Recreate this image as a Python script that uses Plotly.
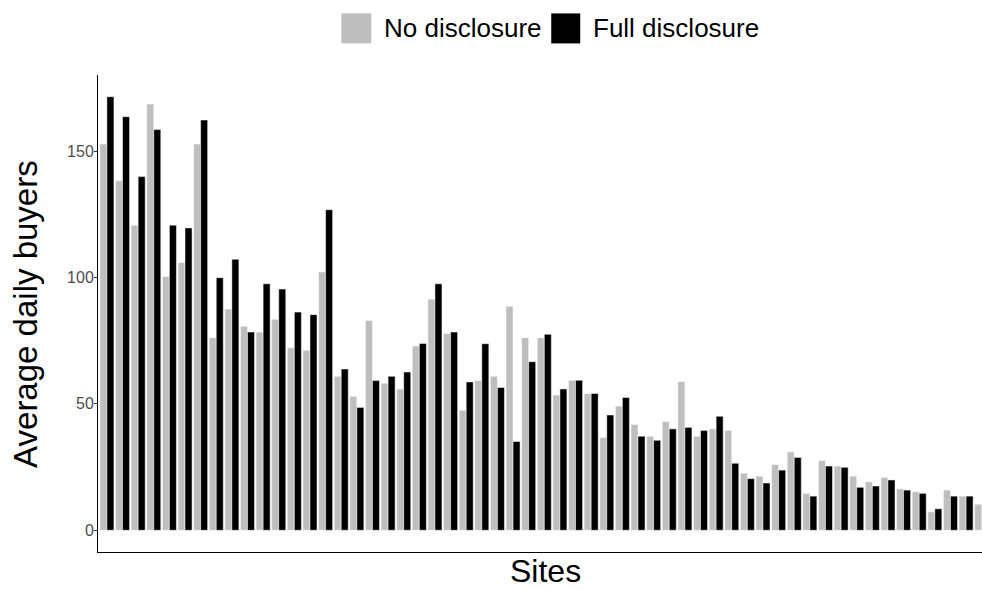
import plotly.graph_objects as go

sites = list(range(1, 58))
no_disclosure = [152.8, 138.3, 120.7, 168.6, 100.4, 105.9, 152.8, 76.2, 87.5, 80.7,
                 78.4, 83.5, 72.2, 71.2, 102.2, 60.9, 53.0, 83.0, 58.2, 55.9,
                 72.9, 91.4, 77.8, 47.5, 59.2, 60.9, 88.6, 76.2, 76.2, 53.5,
                 59.3, 54.1, 36.7, 49.1, 41.8, 37.2, 43.0, 58.8, 37.2, 40.1,
                 39.5, 22.6, 21.4, 26.0, 31.0, 14.6, 27.6, 25.4, 21.4, 19.2,
                 20.9, 16.4, 15.2, 7.3, 15.9, 13.5, 10.3]
full_disclosure = [171.5, 163.6, 139.9, 158.5, 120.7, 119.6, 162.3, 99.9, 107.2, 78.4,
                   97.5, 95.4, 86.3, 85.3, 126.8, 63.8, 48.6, 59.2, 60.9, 62.6,
                   73.9, 97.5, 78.4, 58.7, 73.8, 56.5, 35.1, 66.7, 77.5, 55.9,
                   59.3, 54.1, 45.6, 52.5, 37.2, 35.6, 40.1, 40.7, 39.5, 45.1,
                   26.5, 20.4, 18.7, 23.8, 28.8, 13.5, 25.4, 24.9, 17.0, 17.5,
                   19.9, 15.9, 14.6, 8.5, 13.5, 13.5, None]
y_ticks = [0, 50, 100, 150]

GRAY = "#BEBEBE"
BLACK = "#000000"
FONT = "Liberation Sans"

xpos = [s - 1 for s in sites]

fig = go.Figure()
fig.add_trace(go.Bar(x=xpos, y=no_disclosure, name="No disclosure",
                     marker=dict(color=GRAY, line=dict(color="white", width=0.5))))
fig.add_trace(go.Bar(x=xpos, y=full_disclosure, name="Full disclosure",
                     marker=dict(color=BLACK, line=dict(color="white", width=0.5))))

L, R, T, B = 97.5, 982.0, 74.6, 551.7
W, H = R - L, B - T

def px(x):
    return (x - L) / W

def py(y):
    return (B - y) / H

shapes = [
    dict(type="rect", xref="paper", yref="paper", x0=px(341), x1=px(371), y0=py(43), y1=py(13),
         fillcolor=GRAY, line=dict(width=0)),
    dict(type="rect", xref="paper", yref="paper", x0=px(551), x1=px(580), y0=py(43), y1=py(13),
         fillcolor=BLACK, line=dict(width=0)),
]
annotations = [
    dict(text="No disclosure", xref="paper", yref="paper", x=px(383), y=py(28),
         xanchor="left", yanchor="middle", showarrow=False, borderpad=0,
         font=dict(family=FONT, size=26, color="black")),
    dict(text="Full disclosure", xref="paper", yref="paper", x=px(592), y=py(28),
         xanchor="left", yanchor="middle", showarrow=False, borderpad=0,
         font=dict(family=FONT, size=26, color="black")),
    dict(text="Average daily buyers", xref="paper", yref="paper", x=px(25), y=py(314),
         xanchor="center", yanchor="middle", textangle=-90, showarrow=False,
         font=dict(family=FONT, size=33, color="black")),
    dict(text="Sites", xref="paper", yref="paper", x=px(545), y=py(589.5),
         xanchor="center", yanchor="bottom", showarrow=False, borderpad=0,
         font=dict(family=FONT, size=32, color="black")),
]

fig.update_layout(
    width=982, height=590, autosize=False,
    margin=dict(l=L, r=982 - R, t=T, b=590 - B, pad=0),
    paper_bgcolor="white", plot_bgcolor="white",
    barmode="group", bargap=0.1, bargroupgap=0.0,
    showlegend=False,
    shapes=shapes, annotations=annotations,
    font=dict(family=FONT),
)
fig.update_xaxes(range=[-0.57, 56.02], showticklabels=False, ticks="",
                 showline=True, linecolor="black", linewidth=1,
                 showgrid=False, zeroline=False)
fig.update_yaxes(range=[-8.6, 180.1], tickvals=y_ticks, ticks="outside", ticklen=3,
                 tickcolor="#333333", tickwidth=1, ticklabelstandoff=-3,
                 tickfont=dict(family=FONT, size=16, color="#4D4D4D"),
                 showline=True, linecolor="black", linewidth=1,
                 showgrid=False, zeroline=False)

post = (
    "document.body.style.margin='0';"
    "document.body.style.padding='0';"
    "document.body.style.overflow='hidden';"
    "var gd=document.getElementById('{plot_id}');"
    "gd.style.width='982px';gd.style.height='590px';"
    "Plotly.relayout(gd,{width:982,height:590});"
)
fig.write_html("out.html", post_script=post,
               config={"responsive": False, "displayModeBar": False})
